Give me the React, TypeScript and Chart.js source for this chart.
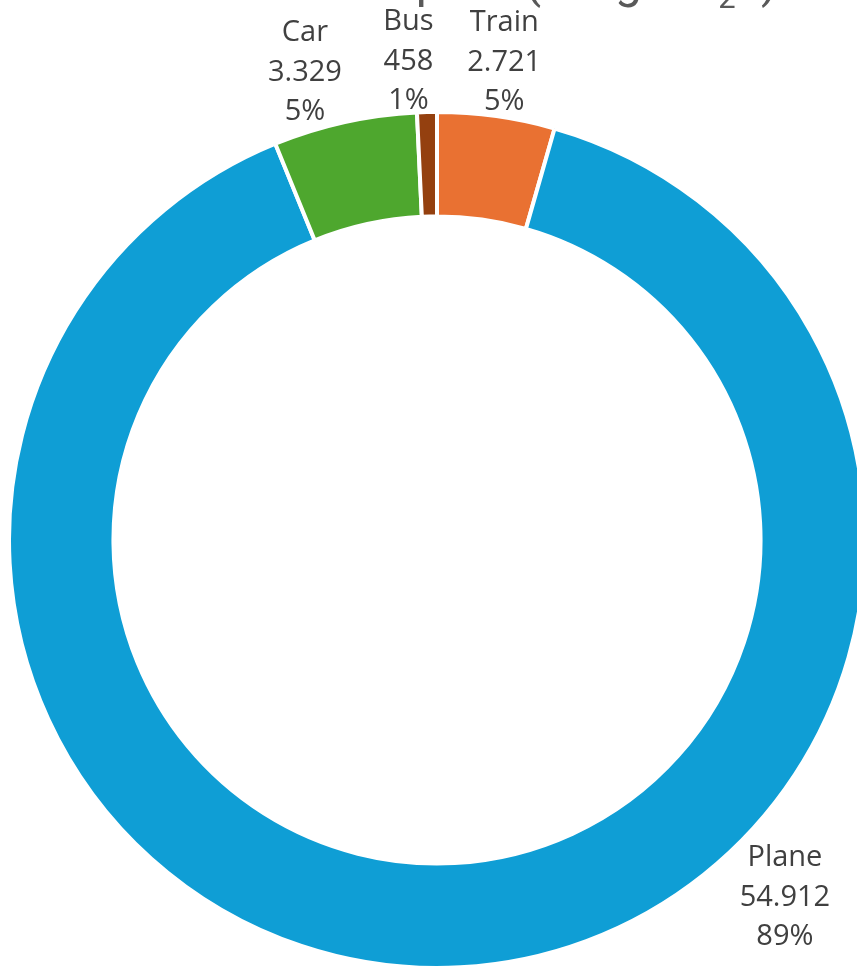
import React, { useEffect, useRef } from "react";
import { Chart, registerables } from "chart.js";

Chart.register(...registerables);

// ---- data ----
const categories = ["Train", "Plane", "Car", "Bus"];
const emissions = [2721, 54912, 3329, 458];
const percentLabels = ["5%", "89%", "5%", "1%"];
const sliceColors = ["#E97132", "#0F9ED5", "#4EA72E", "#94400F"];
const titleMain = "Carbon footprint (in kg CO";
const titleSub = "2";
const titleEnd = "e)";

function formatThousands(v: number): string {
  return String(v).replace(/\B(?=(\d{3})+(?!\d))/g, ".");
}

const sliceLabelPlugin = {
  id: "sliceLabels",
  afterDatasetsDraw(chart: any, _args: any, opts: any) {
    const ctx = chart.ctx as CanvasRenderingContext2D;
    const meta = chart.getDatasetMeta(0);
    ctx.save();
    ctx.font = `${opts.fontSize}px ${opts.fontFamily}`;
    ctx.fillStyle = opts.color;
    ctx.textAlign = "center";
    ctx.textBaseline = "alphabetic";
    const capH = opts.fontSize * opts.capRatio;
    meta.data.forEach((arc: any, i: number) => {
      const p = arc.getProps(["x", "y", "startAngle", "endAngle", "outerRadius"], true);
      let a = (p.startAngle + p.endAngle) / 2;
      const ov = opts.angleOverrides ? opts.angleOverrides[i] : undefined;
      if (ov !== undefined) a = ((ov - 90) * Math.PI) / 180;
      const lines = [categories[i], formatThousands(emissions[i]), percentLabels[i]];
      const w = Math.max(...lines.map((l) => ctx.measureText(l).width));
      const hw = w / 2;
      const hh = ((lines.length - 1) * opts.lineHeight + capH) / 2;
      const cos = Math.cos(a);
      const sin = Math.sin(a);
      const ext = Math.abs(cos) * hw + Math.abs(sin) * hh;
      const d = p.outerRadius + opts.gap + ext;
      const cx = p.x + cos * d;
      const cy = p.y + sin * d;
      lines.forEach((l, k) => {
        const lineCenter = cy + (k - (lines.length - 1) / 2) * opts.lineHeight;
        ctx.fillText(l, cx, lineCenter + capH / 2);
      });
    });
    ctx.restore();
  },
};

const clippedTitlePlugin = {
  id: "clippedTitle",
  afterDraw(chart: any, _args: any, opts: any) {
    const ctx = chart.ctx as CanvasRenderingContext2D;
    ctx.save();
    ctx.fillStyle = opts.color;
    ctx.textBaseline = "alphabetic";
    ctx.textAlign = "left";
    const mainFont = `${opts.fontSize}px ${opts.fontFamily}`;
    const subFont = `${Math.round(opts.fontSize * 0.65)}px ${opts.fontFamily}`;
    ctx.font = mainFont;
    const w1 = ctx.measureText(titleMain).width;
    const w3 = ctx.measureText(titleEnd).width;
    ctx.font = subFont;
    const w2 = ctx.measureText(titleSub).width;
    const total = w1 + w2 + w3;
    let x = opts.centerX - total / 2;
    const y = opts.baseline;
    ctx.font = mainFont;
    ctx.fillText(titleMain, x, y);
    x += w1;
    ctx.font = subFont;
    ctx.fillText(titleSub, x, y + opts.fontSize * 0.23);
    x += w2;
    ctx.font = mainFont;
    ctx.fillText(titleEnd, x, y);
    ctx.restore();
  },
};

export default function App() {
  const canvasRef = useRef<HTMLCanvasElement | null>(null);

  useEffect(() => {
    if (!canvasRef.current) return;
    const chart = new Chart(canvasRef.current, {
      type: "doughnut",
      data: {
        labels: categories,
        datasets: [
          {
            data: emissions,
            backgroundColor: sliceColors,
            borderColor: "#ffffff",
            borderWidth: 4,
            hoverOffset: 0,
            clip: false as any,
          },
        ],
      },
      options: {
        animation: false,
        responsive: true,
        maintainAspectRatio: false,
        radius: 428,
        cutout: 316,
        layout: { padding: { left: 17, right: 0, top: 113, bottom: 0 } },
        plugins: {
          legend: { display: false },
          title: { display: false },
          tooltip: { enabled: false },
          sliceLabels: {
            fontSize: 29,
            fontFamily: "'Open Sans', sans-serif",
            color: "#404040",
            lineHeight: 39.5,
            capRatio: 0.714,
            gap: 2,
            angleOverrides: { 1: 135.6, 2: 344.3, 3: 356.6 },
          },
          clippedTitle: {
            fontSize: 48,
            fontFamily: "Roboto, sans-serif",
            color: "#595959",
            centerX: 470,
            baseline: -3,
          },
        } as any,
      },
      plugins: [sliceLabelPlugin, clippedTitlePlugin],
    });
    return () => chart.destroy();
  }, []);

  return (
    <div
      style={{
        position: "fixed",
        left: 0,
        top: 0,
        width: 857,
        height: 967,
        overflow: "hidden",
        background: "#ffffff",
      }}
    >
      <canvas ref={canvasRef} />
    </div>
  );
}
